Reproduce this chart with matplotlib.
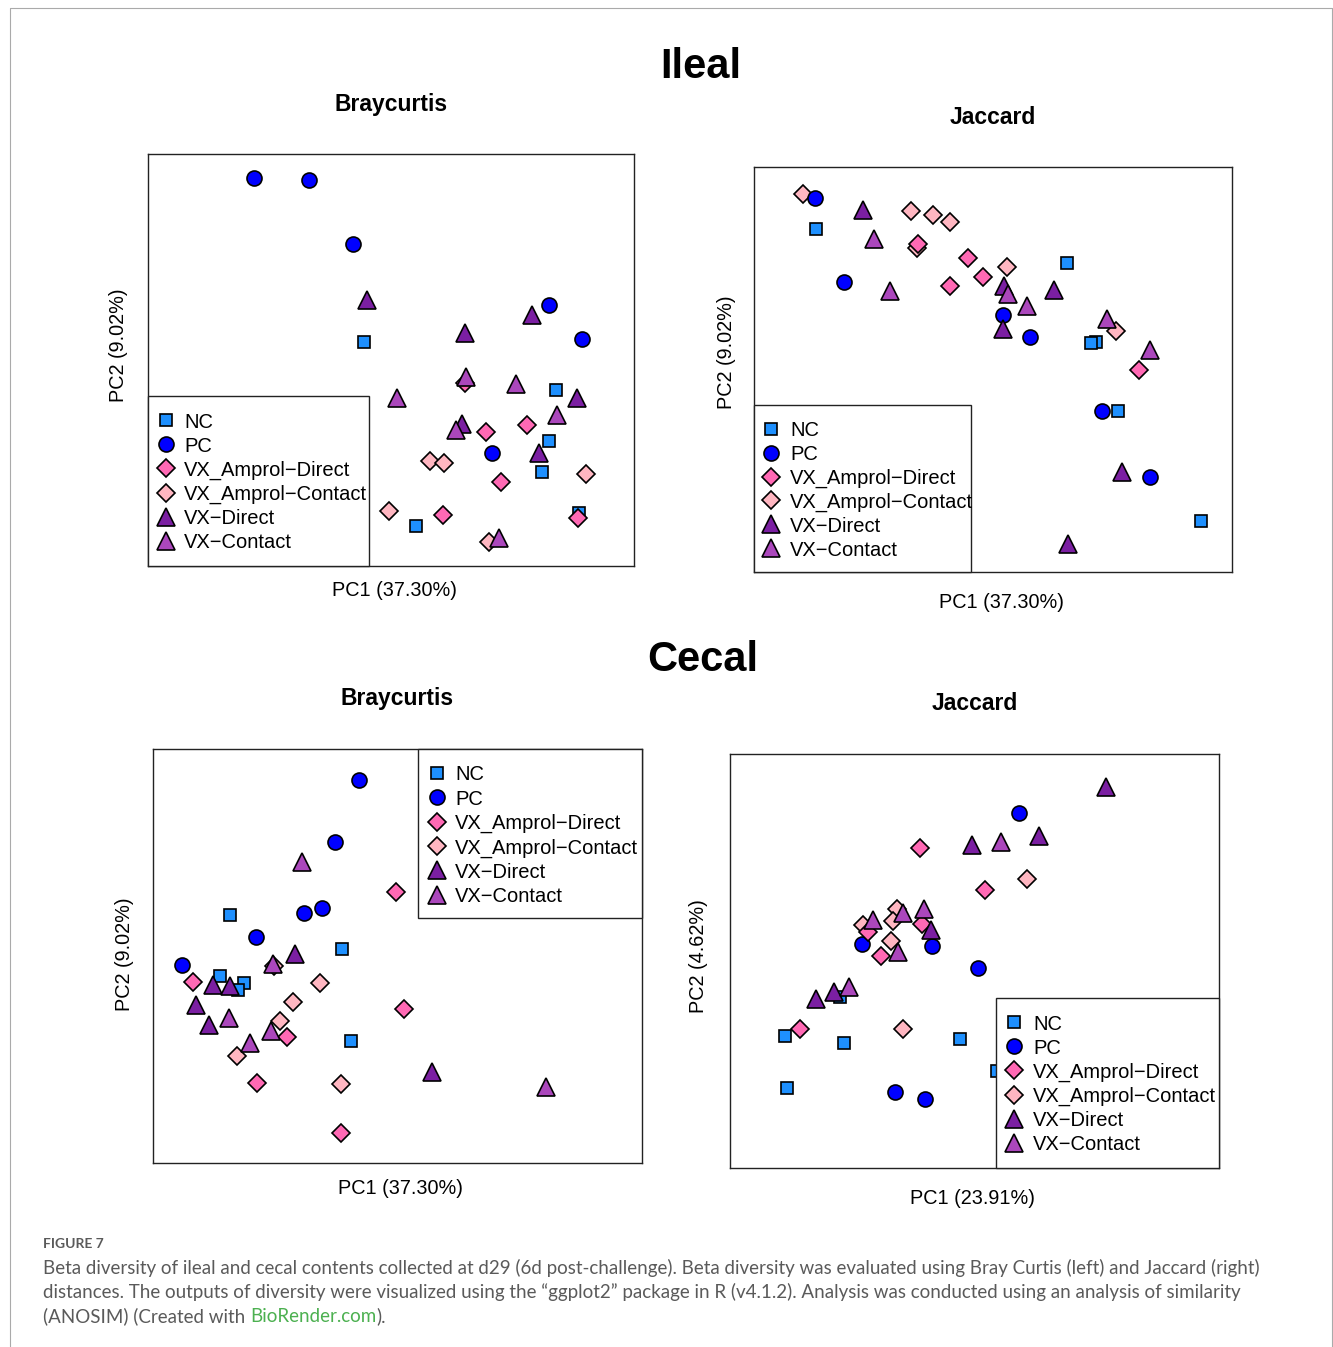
import matplotlib
matplotlib.use("Agg")
import matplotlib.pyplot as plt
from matplotlib.lines import Line2D
from matplotlib.patches import Rectangle

W, H = 1333, 1347

# grupos y estilo (orden de la leyenda)
grupos = ["NC", "PC", "VX_Amprol\u2212Direct", "VX_Amprol\u2212Contact", "VX\u2212Direct", "VX\u2212Contact"]
colores = ["#1e90ff", "#0000ff", "#ff69b4", "#ffb6c1", "#7b1fa2", "#ab47bc"]
marcas = ["s", "o", "D", "D", "^", "^"]
tamanos = [9.3, 10.8, 9.6, 9.6, 13, 13]
orden_dibujo = [0, 3, 1, 2, 4, 5]

# ---- Ileal, Bray-Curtis (coordenadas PCoA reescaladas 0-100)
ileal_bray_pc1 = [
    [44.4, 84.0, 82.5, 81.0, 88.7, 55.1],
    [21.8, 33.2, 42.1, 82.6, 89.2, 70.7],
    [65.2, 69.5, 78.0, 72.6, 60.8, 88.5],
    [58.0, 61.0, 90.1, 49.6, 70.2],
    [45.1, 65.2, 79.1, 88.3, 64.7, 80.5],
    [51.2, 65.4, 75.7, 84.2, 63.4, 72.2],
]
ileal_bray_pc2 = [
    [54.4, 42.7, 30.3, 22.8, 12.9, 9.7],
    [94.2, 93.7, 78.1, 63.3, 55.0, 27.5],
    [44.5, 32.6, 34.2, 20.5, 12.4, 11.7],
    [25.6, 24.9, 22.3, 13.3, 5.9],
    [64.6, 56.5, 60.9, 40.8, 34.4, 27.5],
    [40.8, 45.9, 44.1, 36.7, 33.0, 6.7],
]

# ---- Ileal, Jaccard
ileal_jac_pc1 = [
    [13.0, 65.5, 71.5, 70.5, 76.1, 93.5],
    [12.8, 18.8, 52.0, 57.7, 72.9, 82.8],
    [34.4, 44.8, 48.0, 41.0, 80.6],
    [10.3, 32.8, 37.5, 40.9, 53.0, 75.7, 34.0],
    [22.9, 52.4, 62.8, 52.0, 76.9, 65.6],
    [25.0, 28.5, 53.2, 57.2, 73.8, 82.8],
]
ileal_jac_pc2 = [
    [84.7, 76.4, 56.7, 56.6, 39.8, 12.6],
    [92.4, 71.5, 63.5, 58.1, 39.8, 23.5],
    [81.0, 77.6, 72.9, 70.7, 50.0],
    [93.3, 89.2, 88.1, 86.5, 75.2, 59.6, 80.0],
    [89.4, 70.6, 69.6, 59.9, 24.6, 6.8],
    [82.2, 69.5, 68.6, 65.8, 62.4, 54.8],
]

# ---- Cecal, Bray-Curtis
cecal_bray_pc1 = [
    [15.8, 38.6, 13.8, 18.6, 17.4, 40.4],
    [42.1, 37.2, 30.9, 34.5, 21.0, 5.9],
    [8.1, 49.7, 51.4, 27.5, 21.2, 38.4],
    [34.1, 28.7, 25.9, 17.2, 38.4, 24.7],
    [29.0, 12.2, 15.7, 8.7, 11.4, 57.0],
    [30.4, 24.6, 15.5, 24.2, 19.9, 80.4],
]
cecal_bray_pc2 = [
    [59.9, 51.7, 45.2, 43.4, 41.7, 29.5],
    [92.5, 77.6, 60.5, 61.5, 54.6, 47.8],
    [43.8, 65.5, 37.1, 30.5, 19.3, 7.3],
    [43.4, 38.9, 34.3, 25.9, 19.2, 47.6],
    [50.4, 43.1, 42.7, 38.1, 33.3, 22.0],
    [72.6, 48.0, 35.1, 31.9, 29.0, 18.4],
]

# ---- Cecal, Jaccard
cecal_jac_pc1 = [
    [22.5, 11.2, 23.4, 47.0, 54.7, 11.6],
    [59.1, 26.9, 41.4, 50.7, 33.7, 39.9],
    [38.8, 52.1, 28.3, 39.2, 30.9, 14.3],
    [60.8, 34.1, 33.4, 27.2, 33.0, 35.4],
    [76.8, 49.4, 63.2, 41.2, 17.6, 21.3],
    [55.5, 29.2, 35.3, 39.6, 34.4, 24.3],
]
cecal_jac_pc2 = [
    [41.2, 31.8, 30.3, 31.2, 23.4, 19.3],
    [85.7, 54.2, 53.7, 48.3, 18.4, 16.6],
    [77.4, 67.1, 57.0, 58.9, 51.2, 33.5],
    [69.7, 62.5, 59.7, 58.7, 54.8, 33.5],
    [92.0, 78.0, 80.2, 57.6, 40.9, 42.4],
    [78.7, 59.9, 61.7, 62.5, 52.1, 43.6],
]

paneles = [
    # datos x, datos y, caja del eje (px), subtitulo, pos subtitulo, etiqueta x, pos x, etiqueta y, pos y, leyenda
    (ileal_bray_pc1, ileal_bray_pc2, (148, 154, 634, 566), "Braycurtis", (391, 104),
     "PC1 (37.30%)", (395, 591), "PC2 (9.02%)", (118, 345), (148, 396, 369, 566, 166, 184, 420, 24.2)),
    (ileal_jac_pc1, ileal_jac_pc2, (754, 167, 1232, 572), "Jaccard", (993, 117),
     "PC1 (37.30%)", (1001, 602), "PC2 (9.02%)", (727, 352), (754, 405, 971, 572, 771, 790, 429, 23.8)),
    (cecal_bray_pc1, cecal_bray_pc2, (153, 749, 642, 1163), "Braycurtis", (397, 698),
     "PC1 (37.30%)", (401, 1189), "PC2 (9.02%)", (124, 954), (418, 749, 642, 918, 437, 455, 773, 24.3)),
    (cecal_jac_pc1, cecal_jac_pc2, (730, 754, 1219, 1168), "Jaccard", (975, 703),
     "PC1 (23.91%)", (972, 1198), "PC2 (4.62%)", (698, 956), (996, 998, 1219, 1168, 1014, 1033, 1022, 24.2)),
]


def fx(x):
    return x / W


def fy(y):
    return 1 - y / H


plt.rcParams["font.family"] = ["Liberation Sans", "DejaVu Sans"]
fig = plt.figure(figsize=(W / 100, H / 100), dpi=100)

for xs, ys, caja, titulo, pos_t, xlab, pos_x, ylab, pos_y, ley in paneles:
    x0, y0, x1, y1 = caja
    ax = fig.add_axes([fx(x0), fy(y1), (x1 - x0) / W, (y1 - y0) / H])
    for i in orden_dibujo:
        ax.plot(xs[i], ys[i], linestyle="none", marker=marcas[i], ms=tamanos[i],
                mfc=colores[i], mec="black", mew=1.2, zorder=3)
    ax.set_xlim(0, 100)
    ax.set_ylim(0, 100)
    ax.set_xticks([])
    ax.set_yticks([])
    for s in ax.spines.values():
        s.set_linewidth(1.0)
        s.set_color("#222222")

    fig.text(fx(pos_t[0]), fy(pos_t[1]), titulo, ha="center", va="center",
             fontsize=16.5, fontweight="bold")
    fig.text(fx(pos_x[0]), fy(pos_x[1]), xlab, ha="center", va="center", fontsize=14.3)
    fig.text(fx(pos_y[0]), fy(pos_y[1]), ylab, ha="center", va="center",
             rotation=90, fontsize=14.3)

    # LEYENDA (caja blanca encima de los puntos)
    lx0, ly0, lx1, ly1, mx, tx, fila0, paso = ley
    fig.add_artist(Rectangle((fx(lx0), fy(ly1)), (lx1 - lx0) / W, (ly1 - ly0) / H,
                             transform=fig.transFigure, facecolor="white",
                             edgecolor="#222222", linewidth=1.0, zorder=5))
    for i, g in enumerate(grupos):
        yy = fila0 + paso * i
        fig.add_artist(Line2D([fx(mx)], [fy(yy)], transform=fig.transFigure,
                              linestyle="none", marker=marcas[i], ms=tamanos[i],
                              mfc=colores[i], mec="black", mew=1.2, zorder=6))
        fig.text(fx(tx), fy(yy + 7.5), g, ha="left", va="baseline",
                 fontsize=14.5, zorder=7)

# TITULOS
fig.text(fx(701), fy(67), "Ileal", ha="center", va="center", fontsize=30, fontweight="bold")
fig.text(fx(703), fy(660), "Cecal", ha="center", va="center", fontsize=30, fontweight="bold")

# MARCO
gris = "#aaaaaa"
fig.add_artist(Line2D([fx(10), fx(10), fx(1332), fx(1332)], [0, fy(8), fy(8), 0],
                      transform=fig.transFigure, color=gris, linewidth=0.8))

# PIE DE FIGURA
fuente_pie = ["Lato", "DejaVu Sans"]
color_pie = "#5a5a5a"
tam_pie = 13.5
fig.text(fx(43), fy(1244), "FIGURE 7", ha="left", va="center", fontsize=10,
         fontweight="bold", color=color_pie, family=fuente_pie)
lineas = [
    "Beta diversity of ileal and cecal contents collected at d29 (6d post-challenge). Beta diversity was evaluated using Bray Curtis (left) and Jaccard (right)",
    "distances. The outputs of diversity were visualized using the \u201cggplot2\u201d package in R (v4.1.2). Analysis was conducted using an analysis of similarity",
]
for k, linea in enumerate(lineas):
    fig.text(fx(43), fy(1268 + 24 * k), linea, ha="left", va="center", fontsize=tam_pie,
             color=color_pie, family=fuente_pie)

t1 = fig.text(fx(43), fy(1316), "(ANOSIM) (Created with ", ha="left", va="center",
              fontsize=tam_pie, color=color_pie, family=fuente_pie)
t2 = fig.text(0, 0, "BioRender.com", fontsize=tam_pie, color="#4cb050", family=fuente_pie)
t3 = fig.text(0, 0, ").", fontsize=tam_pie, color=color_pie, family=fuente_pie)
fig.canvas.draw()
r = fig.canvas.get_renderer()
b1 = t1.get_window_extent(r)
t2.set_position((b1.x1 / W, b1.y0 / H))
t2.set_va("bottom")
fig.canvas.draw()
b2 = t2.get_window_extent(r)
t3.set_position((b2.x1 / W, b1.y0 / H))
t3.set_va("bottom")

plt.savefig("out.png", dpi=100)
